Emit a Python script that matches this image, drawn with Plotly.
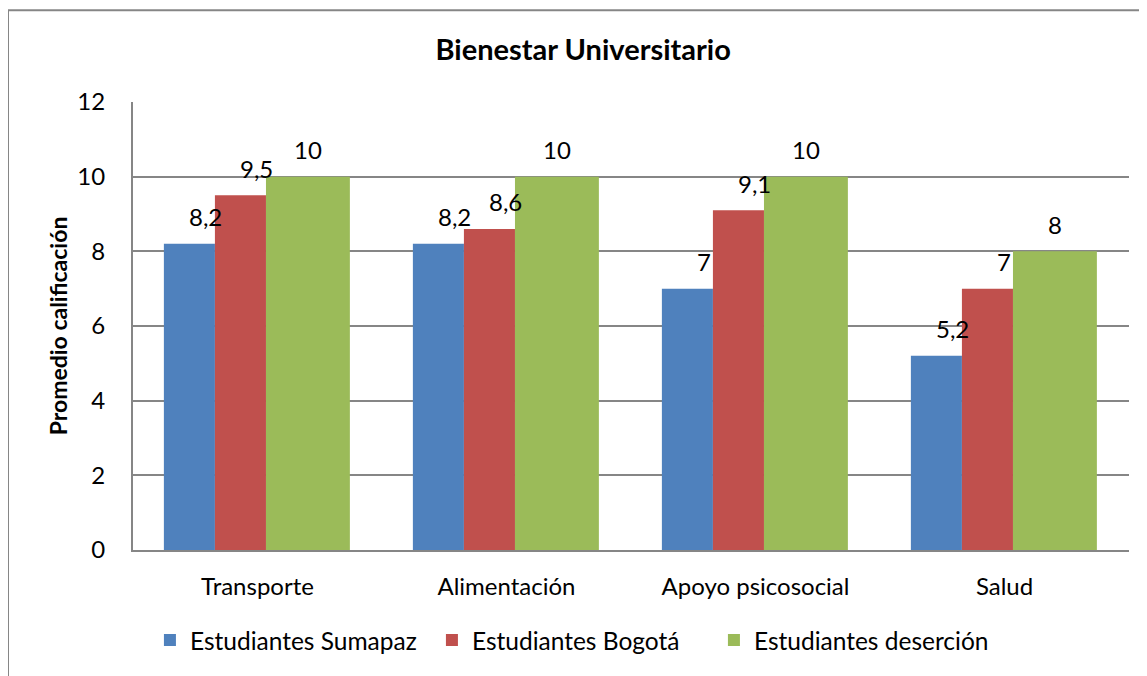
import plotly.graph_objects as go

categories = ["Transporte", "Alimentación", "Apoyo psicosocial", "Salud"]
sumapaz = [8.2, 8.2, 7, 5.2]
bogota = [9.5, 8.6, 9.1, 7]
desercion = [10, 10, 10, 8]
series_names = ["Estudiantes Sumapaz", "Estudiantes Bogotá", "Estudiantes deserción"]
colors = ["#4F81BD", "#C0504D", "#9BBB59"]
y_ticks = [0, 2, 4, 6, 8, 10, 12]

def fmt(v):
    return ("%g" % v).replace(".", ",")

series = [sumapaz, bogota, desercion]
offsets = [-0.376, -0.171, 0.034]
widths = [0.205, 0.205, 0.337]
label_shift = [0.066, 0.066, 0.0]

FONT = "Lato, Carlito, Calibri, sans-serif"

fig = go.Figure()
for name, vals, col, off, w in zip(series_names, series, colors, offsets, widths):
    fig.add_trace(go.Bar(
        x=categories, y=vals, name=name, marker=dict(color=col, line=dict(width=0)),
        offset=off, width=w,
    ))

annotations = []
for vals, off, w, ls in zip(series, offsets, widths, label_shift):
    for i, v in enumerate(vals):
        annotations.append(dict(
            x=i + off + w / 2 + ls, y=v, xref="x", yref="y", text=fmt(v),
            showarrow=False, yshift=27, font=dict(size=24, color="#000000", family=FONT),
        ))

fig.update_layout(
    width=1139, height=668,
    margin=dict(l=125, r=18, t=94, b=126, autoexpand=False),
    paper_bgcolor="white", plot_bgcolor="white",
    barmode="overlay",
    font=dict(family=FONT, color="#000000"),
    title=dict(text="<b>Bienestar Universitario</b>", x=0.505, xanchor="center",
               y=0.937, yanchor="middle", font=dict(size=29, family=FONT, color="#000000")),
    xaxis=dict(
        type="category", range=[-0.5, 3.5], showgrid=False,
        showline=True, linecolor="#868686", linewidth=2,
        ticks="", tickfont=dict(size=24, family=FONT, color="#000000"),
        ticklabelstandoff=14,
    ),
    yaxis=dict(
        range=[0, 12], tickvals=y_ticks, ticktext=[str(t) for t in y_ticks],
        showgrid=True, gridcolor="#868686", gridwidth=2,
        showline=True, linecolor="#868686", linewidth=2,
        ticks="", tickfont=dict(size=24, family=FONT, color="#000000"),
        ticklabelstandoff=21, zeroline=False,
        title=dict(text="<b>Promedio calificación</b>", font=dict(size=23, family=FONT, color="#000000"),
                   standoff=3),
    ),
    legend=dict(orientation="h", x=0.017, xanchor="left", y=-0.201, yanchor="middle",
                font=dict(size=24.5, family=FONT, color="#000000"),
                itemwidth=30, traceorder="normal", entrywidth=237, entrywidthmode="pixels"),
    annotations=annotations,
    shapes=[dict(type="rect", xref="paper", yref="paper", x0=-0.1255, x1=1.05, y0=-0.35, y1=1.205,
                 line=dict(color="#868686", width=2), fillcolor="rgba(0,0,0,0)", layer="below")],
    showlegend=True,
)

fig.write_html("out.html")
